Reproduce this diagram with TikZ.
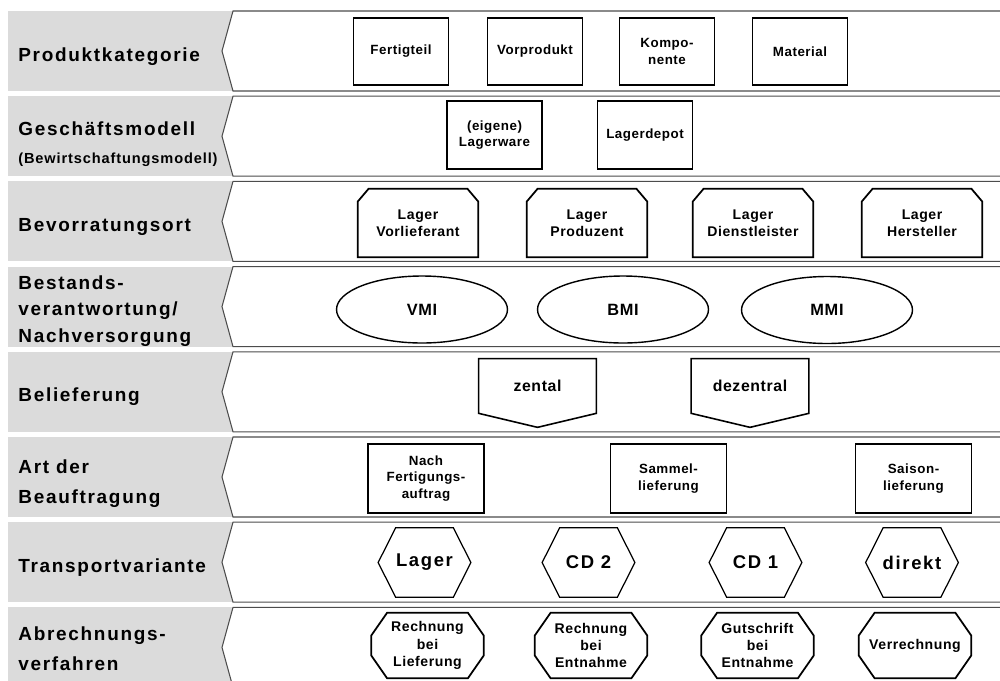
\documentclass[tikz,border=0pt]{standalone}
\usepackage{fontspec}
\setmainfont{Liberation Sans}
\newfontfamily\rowfont{Liberation Sans}[LetterSpace=9]
\newfontfamily\subfont{Liberation Sans}[LetterSpace=6]
\newfontfamily\boxfont{Liberation Sans}[LetterSpace=4]
\usetikzlibrary{shapes.geometric}

\begin{document}
\begin{tikzpicture}[x=0.02cm,y=-0.02cm,line join=miter]
	\tikzstyle{rowbg}=[fill=black!14];
	\tikzstyle{panel}=[draw=black!70,line width=0.6pt,fill=white];
	\tikzstyle{rowtitle}=[anchor=base west,inner sep=0pt,font=\rowfont\bfseries\fontsize{10.8}{12}\selectfont];
	\tikzstyle{subtitle}=[anchor=base west,inner sep=0pt,font=\subfont\bfseries\fontsize{8.3}{10}\selectfont];
	\tikzstyle{sq}=[draw,line width=1pt,inner sep=0pt,align=center,minimum width=1.9cm,minimum height=1.35cm,font=\boxfont\bfseries\fontsize{7.6}{9.5}\selectfont];
	\tikzstyle{ort}=[inner sep=0pt,align=center,minimum width=2.4cm,minimum height=1.36cm,font=\boxfont\bfseries\fontsize{8}{9.5}\selectfont];
	\tikzstyle{oval}=[ellipse,draw,line width=0.8pt,inner sep=0pt,minimum width=3.42cm,minimum height=1.34cm,font=\boxfont\bfseries\fontsize{9.3}{11}\selectfont];
	\tikzstyle{down}=[inner sep=0pt,minimum width=2.34cm,minimum height=1.08cm,font=\boxfont\bfseries\fontsize{9}{11}\selectfont];
	\tikzstyle{hexa}=[inner sep=0pt,minimum width=1.84cm,minimum height=1.38cm,font=\rowfont\bfseries\fontsize{10.5}{12}\selectfont];
	\tikzstyle{octa}=[inner sep=0pt,align=center,minimum width=2.24cm,minimum height=1.3cm,font=\boxfont\bfseries\fontsize{8}{9.8}\selectfont];
	\tikzstyle{outline}=[draw,line width=1pt];

	\useasboundingbox (0,0) rectangle (1000,680);

	% rows
	\foreach \i in {0,...,7}{
		\pgfmathsetmacro\top{11+85.2*\i}
		\pgfmathsetmacro\bot{\top+80}
		\pgfmathsetmacro\mid{\top+40}
		\path[rowbg] (8,\top) rectangle (240,\bot);
		\path[panel] (233,\top) -- (1004,\top) -- (1004,\bot) -- (233,\bot) -- (222,\mid) -- cycle;
	}

	\node[rowtitle] (produkt) at (18,61) {Produktkategorie};
	\node[rowtitle] (modell) at (18,135) {Geschäftsmodell};
	\node[subtitle] (modellsub) at (18,163) {(Bewirtschaftungsmodell)};
	\node[rowtitle] (ort) at (18,231.4) {Bevorratungsort};
	\node[rowtitle] (bestand1) at (18,289) {Bestands-};
	\node[rowtitle] (bestand2) at (18,315.5) {verantwortung/};
	\node[rowtitle] (bestand3) at (18,342) {Nachversorgung};
	\node[rowtitle] (beliefer) at (18,401.8) {Belieferung};
	\node[rowtitle] (art1) at (18,473) {Art der};
	\node[rowtitle] (art2) at (18,503) {Beauftragung};
	\node[rowtitle] (transport) at (18,572.2) {Transportvariante};
	\node[rowtitle] (abr1) at (18,640) {Abrechnungs-};
	\node[rowtitle] (abr2) at (18,670) {verfahren};

	\node[sq] (fertigteil) at (401,51.5) {Fertigteil};
	\node[sq] (vorprodukt) at (535,51.5) {Vorprodukt};
	\node[sq] (komponente) at (667,51.5) {Kompo-\\nente};
	\node[sq] (material) at (800,51.5) {Material};

	\node[sq] (lagerware) at (494.5,135) {(eigene)\\Lagerware};
	\node[sq] (lagerdepot) at (645,135) {Lagerdepot};

	\node[ort] (vorlieferant) at (418,223) {Lager\\Vorlieferant};
	\node[ort] (produzent) at (587,223) {Lager\\Produzent};
	\node[ort] (dienstleister) at (753,223) {Lager\\Dienstleister};
	\node[ort] (hersteller) at (922,223) {Lager\\Hersteller};
	\foreach \n in {vorlieferant,produzent,dienstleister,hersteller}
		\draw[outline] (\n.south west) -- ([yshift=-0.26cm]\n.north west) -- ([xshift=0.22cm]\n.north west)
			-- ([xshift=-0.22cm]\n.north east) -- ([yshift=-0.26cm]\n.north east) -- (\n.south east) -- cycle;

	\node[oval] (vmi) at (422,309.5) {VMI};
	\node[oval] (bmi) at (623,309.5) {BMI};
	\node[oval] (mmi) at (827,310) {MMI};

	\node[down] (zental) at (537.5,386) {zental};
	\node[down] (dezentral) at (750,386) {dezentral};
	\foreach \n in {zental,dezentral}
		\draw[outline,line width=0.9pt] (\n.north west) -- (\n.north east) -- (\n.south east) -- ([yshift=-0.28cm]\n.south) -- (\n.south west) -- cycle;

	\node[sq,minimum width=2.32cm,minimum height=1.38cm] (nachauftrag) at (426,478.5) {Nach\\Fertigungs-\\auftrag};
	\node[sq,minimum width=2.32cm,minimum height=1.38cm] (sammel) at (668.5,478.5) {Sammel-\\lieferung};
	\node[sq,minimum width=2.32cm,minimum height=1.38cm] (saison) at (913.5,478.5) {Saison-\\lieferung};

	\node[hexa] (lager) at (424.5,562.5) {Lager};
	\node[hexa] (cdzwei) at (588.5,562.5) {CD 2};
	\node[hexa] (cdeins) at (755.5,562.5) {CD 1};
	\node[hexa] (direkt) at (912,562.5) {direkt};
	\foreach \n in {lager,cdzwei,cdeins,direkt}
		\draw[outline,line width=0.7pt] (\n.west) -- ([xshift=0.35cm]\n.north west) -- ([xshift=-0.35cm]\n.north east)
			-- (\n.east) -- ([xshift=-0.35cm]\n.south east) -- ([xshift=0.35cm]\n.south west) -- cycle;

	\node[octa] (reliefer) at (427.5,645.5) {Rechnung\\bei\\Lieferung};
	\node[octa] (reentnahme) at (591,645.5) {Rechnung\\bei\\Entnahme};
	\node[octa] (gutschrift) at (757.5,645.5) {Gutschrift\\bei\\Entnahme};
	\node[octa] (verrechnung) at (915,645.5) {Verrechnung};
	\foreach \n in {reliefer,reentnahme,gutschrift,verrechnung}
		\draw[outline] ([xshift=0.32cm]\n.north west) -- ([xshift=-0.32cm]\n.north east) -- ([yshift=-0.46cm]\n.north east)
			-- ([yshift=0.46cm]\n.south east) -- ([xshift=-0.32cm]\n.south east) -- ([xshift=0.32cm]\n.south west)
			-- ([yshift=0.46cm]\n.south west) -- ([yshift=-0.46cm]\n.north west) -- cycle;
\end{tikzpicture}
\end{document}
